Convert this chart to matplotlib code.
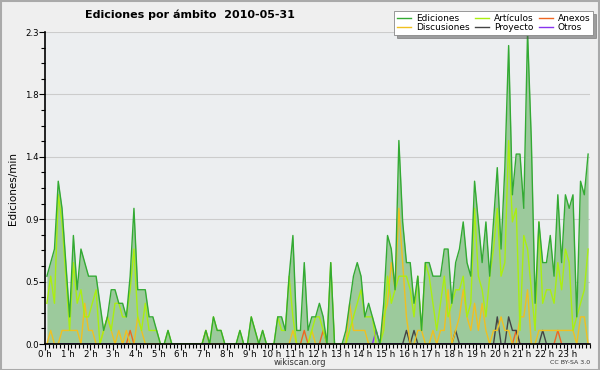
import numpy as np
import matplotlib
matplotlib.use("Agg")
import matplotlib.pyplot as plt
from matplotlib.patches import Rectangle
from matplotlib.ticker import MultipleLocator, FixedLocator, FixedFormatter

# Ediciones por minuto, tramos de 10 minutos (144 tramos en el día)
ediciones = [
    0.5, 0.6, 0.7, 1.2, 1.0, 0.6, 0.2, 0.8, 0.4, 0.7,
    0.6, 0.5, 0.5, 0.5, 0.3, 0.1, 0.2, 0.4, 0.4, 0.3,
    0.3, 0.2, 0.5, 1.0, 0.4, 0.4, 0.4, 0.2, 0.2, 0.1,
    0, 0, 0.1, 0, 0, 0, 0, 0, 0, 0,
    0, 0, 0.1, 0, 0.2, 0.1, 0.1, 0, 0, 0,
    0, 0.1, 0, 0, 0.2, 0.1, 0, 0.1, 0, 0,
    0, 0.2, 0.2, 0.1, 0.5, 0.8, 0.1, 0.1, 0.6, 0.1,
    0.2, 0.2, 0.3, 0.2, 0, 0.6, 0, 0, 0, 0.1,
    0.3, 0.5, 0.6, 0.5, 0.2, 0.3, 0.2, 0.1, 0, 0.3,
    0.8, 0.7, 0.4, 1.5, 0.9, 0.6, 0.6, 0.3, 0.5, 0.1,
    0.6, 0.6, 0.5, 0.5, 0.5, 0.7, 0.7, 0.3, 0.6, 0.7,
    0.9, 0.6, 0.5, 1.2, 0.9, 0.6, 0.9, 0.5, 0.9, 1.3,
    0.7, 1.3, 2.2, 1.1, 1.4, 1.4, 1.0, 2.3, 1.5, 0.3,
    0.9, 0.6, 0.6, 0.8, 0.5, 1.1, 0.6, 1.1, 1.0, 1.1,
    0.2, 1.2, 1.1, 1.4,
]
articulos = [
    0.3, 0.5, 0.3, 1.1, 0.9, 0.5, 0.1, 0.6, 0.3, 0.4,
    0.2, 0.2, 0.3, 0.4, 0.0, 0.1, 0.2, 0.1, 0.3, 0.3,
    0.2, 0.2, 0.4, 0.7, 0.2, 0.1, 0.3, 0.1, 0.1, 0.1,
    0, 0, 0.1, 0, 0, 0, 0, 0, 0, 0,
    0, 0, 0.1, 0, 0.2, 0.1, 0.1, 0, 0, 0,
    0, 0.1, 0, 0, 0.2, 0.1, 0, 0.1, 0, 0,
    0, 0.2, 0.1, 0.1, 0.5, 0.2, 0, 0, 0, 0,
    0.1, 0.2, 0.2, 0.1, 0, 0.6, 0, 0, 0, 0,
    0.1, 0.2, 0.3, 0.4, 0.2, 0.2, 0.2, 0, 0, 0.1,
    0.5, 0.3, 0.4, 0.5, 0.5, 0.5, 0.4, 0.2, 0.5, 0.1,
    0.6, 0.5, 0.3, 0.1, 0.3, 0.5, 0.2, 0.3, 0.4, 0.4,
    0.5, 0.2, 0.3, 1.0, 0.5, 0.4, 0.2, 0.5, 0.7, 1.0,
    0.5, 0.6, 1.5, 0.9, 1.0, 0.1, 0.8, 0.7, 0.4, 0.1,
    0.9, 0.3, 0.4, 0.4, 0.3, 0.6, 0.4, 0.7, 0.6, 0.1,
    0.2, 0.3, 0.4, 0.7,
]
discusiones = [
    0, 0.1, 0, 0, 0.1, 0.1, 0.1, 0.1, 0.1, 0,
    0.3, 0.1, 0.1, 0, 0, 0.1, 0.2, 0.1, 0, 0.1,
    0, 0.1, 0, 0, 0.2, 0.1, 0, 0, 0, 0,
    0, 0, 0, 0, 0, 0, 0, 0, 0, 0,
    0, 0, 0.1, 0, 0, 0, 0, 0, 0, 0,
    0, 0, 0, 0, 0, 0, 0, 0, 0, 0,
    0, 0, 0, 0, 0, 0.1, 0, 0, 0, 0,
    0.1, 0, 0, 0, 0, 0, 0, 0, 0, 0,
    0.3, 0.1, 0.1, 0.1, 0.1, 0, 0, 0, 0, 0.2,
    0.3, 0.6, 0.4, 1.0, 0.6, 0.2, 0, 0, 0.1, 0.1,
    0, 0, 0.1, 0, 0.1, 0.1, 0.4, 0, 0.1, 0.2,
    0.4, 0.2, 0.1, 0.3, 0.1, 0.3, 0.1, 0, 0.1, 0.1,
    0.2, 0.1, 0.1, 0, 0, 0.2, 0.2, 0.4, 0, 0,
    0.1, 0.1, 0.1, 0.1, 0.1, 0.1, 0.1, 0.1, 0.1, 0.1,
    0, 0.2, 0.2, 0,
]
# tramos con ediciones en los ámbitos menores
anexos_idx = [22, 68, 73, 124, 135]
anexos_val = [0.1, 0.1, 0.1, 0.1, 0.1]
proyecto_idx = [95, 97, 108, 119, 122, 123, 124, 131]
proyecto_val = [0.1, 0.1, 0.1, 0.2, 0.2, 0.1, 0.1, 0.1]
otros_idx = [87]
otros_val = [0.1]

horas = [f"{h} h" for h in range(24)]

n = len(ediciones)
x = (np.arange(n) + 0.5) / 6.0


def serie(idx, vals):
    s = np.zeros(n)
    s[idx] = vals
    return s


anexos = serie(anexos_idx, anexos_val)
proyecto = serie(proyecto_idx, proyecto_val)
otros = serie(otros_idx, otros_val)

fig = plt.figure(figsize=(6, 3.7), dpi=100, facecolor="#efefef")
ax = fig.add_axes([45 / 600, 1 - 344 / 370, 545 / 600, 312 / 370])
ax.set_facecolor("#eceef0")

ax.fill_between(x, ediciones, 0, color="#9cca9c", lw=0, zorder=1)
ax.plot(x, ediciones, color="#33aa33", lw=1.0, label="Ediciones", zorder=6)
ax.plot(x, articulos, color="#aaee11", lw=1.0, label="Artículos", zorder=5)
ax.plot(x, anexos, color="#ee6622", lw=1.0, label="Anexos", zorder=3)
ax.plot(x, discusiones, color="#f0c020", lw=1.0, label="Discusiones", zorder=4)
ax.plot(x, proyecto, color="#444444", lw=1.0, label="Proyecto", zorder=3)
ax.plot(x, otros, color="#8833ee", lw=1.0, label="Otros", zorder=3)

ax.set_xlim(0, 24)
ax.set_ylim(0, 2.3)

yt = np.linspace(0, 2.3, 6)
ax.yaxis.set_major_locator(FixedLocator(yt))
ax.yaxis.set_major_formatter(FixedFormatter([f"{v:.1f}" for v in yt]))
ax.yaxis.set_minor_locator(MultipleLocator(2.3 / 20))
ax.xaxis.set_major_locator(FixedLocator(range(24)))
ax.xaxis.set_major_formatter(FixedFormatter(horas))
ax.xaxis.set_minor_locator(MultipleLocator(1 / 6))

ax.tick_params(axis="both", which="major", labelsize=6.2, length=4, width=0.8, pad=0.5)
ax.tick_params(axis="both", which="minor", length=3, width=0.8)
ax.grid(axis="y", color="#cccccc", lw=0.8, zorder=0)
ax.set_axisbelow(True)
for s in ["top", "right"]:
    ax.spines[s].set_visible(False)
for s in ["left", "bottom"]:
    ax.spines[s].set_linewidth(1.2)
    ax.spines[s].set_zorder(10)

ax.set_ylabel("Ediciones/min", fontsize=7.5, labelpad=5)

fig.text(85 / 600, 1 - 15 / 370, "Ediciones por ámbito  2010-05-31",
         fontsize=8, fontweight="bold", va="center", ha="left")

handles, labels = ax.get_legend_handles_labels()
orden = ["Ediciones", "Discusiones", "Artículos", "Proyecto", "Anexos", "Otros"]
h = [handles[labels.index(o)] for o in orden]
leg = fig.legend(h, orden, ncol=3, loc="upper right",
                 bbox_to_anchor=(593 / 600, 1 - 11 / 370),
                 fontsize=6.5, frameon=True, fancybox=False, shadow=True,
                 handlelength=1.6, handletextpad=0.5, columnspacing=0.6,
                 labelspacing=0.05, borderpad=0.3, borderaxespad=0)
leg.get_frame().set_edgecolor("#888888")
leg.get_frame().set_linewidth(0.6)

fig.text(0.5, 1 - 362.5 / 370, "wikiscan.org", fontsize=6, ha="center", va="center",
         color="#333333")
fig.text(590 / 600, 1 - 362.5 / 370, "CC BY-SA 3.0", fontsize=4.5, ha="right", va="center",
         color="#333333")

fig.patches.append(Rectangle((0.001, 0.001), 0.997, 0.996, transform=fig.transFigure,
                             fill=False, edgecolor="#aaaaaa", lw=1.5))

fig.savefig("out.png", dpi=100, facecolor=fig.get_facecolor())
